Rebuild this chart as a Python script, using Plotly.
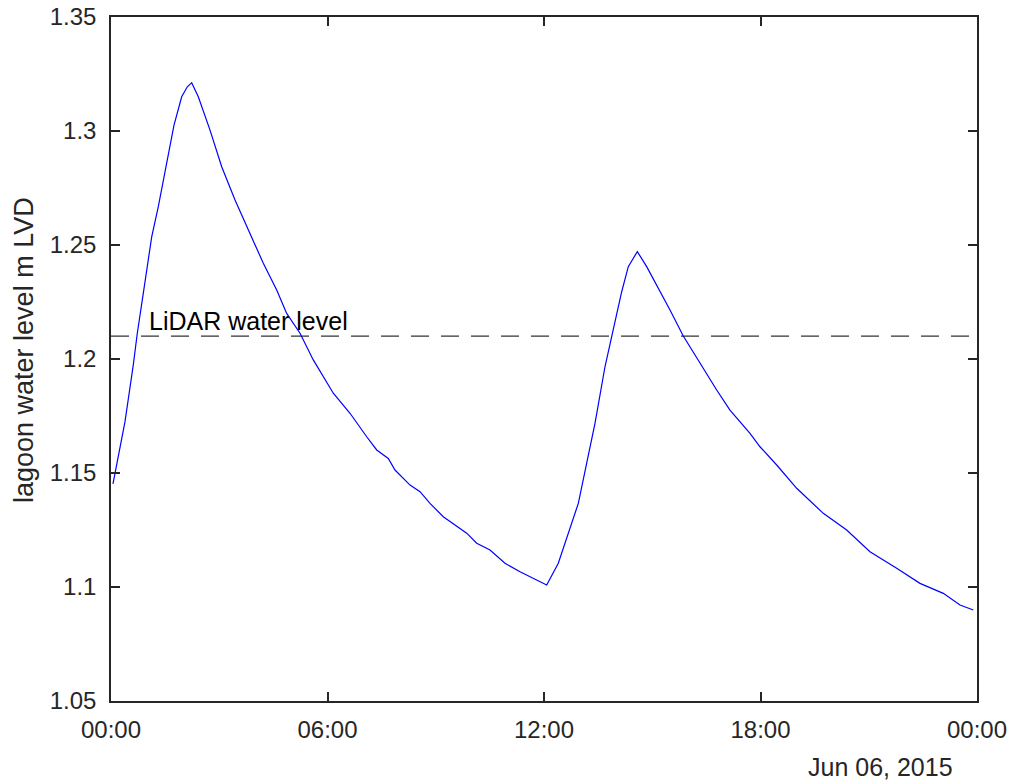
import plotly.graph_objects as go
import pandas as pd

# hours after 2015-06-06 00:00
hours = [0.055, 0.388, 0.618, 0.729, 0.895, 1.128, 1.311, 1.588, 1.746, 1.959, 2.115, 2.236,
         2.419, 2.744, 2.882, 3.068, 3.437, 3.852, 4.221, 4.592, 4.869, 5.238, 5.606, 6.161,
         6.624, 7.087, 7.364, 7.685, 7.871, 8.287, 8.564, 8.841, 9.209, 9.858, 10.135, 10.504,
         10.919, 11.335, 11.798, 12.075, 12.396, 12.721, 12.951, 13.183, 13.413, 13.690, 13.876,
         14.153, 14.336, 14.586, 14.846, 15.123, 15.492, 15.860, 16.323, 16.786, 17.154, 17.709,
         17.986, 18.449, 19.003, 19.740, 20.389, 21.034, 21.774, 22.420, 23.066, 23.529, 23.897]
level = [1.1452, 1.1725, 1.1974, 1.2113, 1.2288, 1.2536, 1.2668, 1.2887, 1.3026, 1.3150, 1.3194, 1.3212,
         1.3150, 1.3004, 1.2931, 1.2843, 1.2697, 1.2551, 1.2420, 1.2303, 1.2200, 1.2113, 1.1996, 1.1850,
         1.1762, 1.1659, 1.1601, 1.1564, 1.1513, 1.1447, 1.1418, 1.1367, 1.1308, 1.1236, 1.1192, 1.1162,
         1.1104, 1.1067, 1.1031, 1.1009, 1.1104, 1.1264, 1.1367, 1.1543, 1.1718, 1.1966, 1.2098,
         1.2295, 1.2405, 1.2471, 1.2405, 1.2325, 1.2215, 1.2101, 1.1981, 1.1864, 1.1776, 1.1674,
         1.1615, 1.1535, 1.1433, 1.1323, 1.1250, 1.1155, 1.1082, 1.1016, 1.0972, 1.0921, 1.0899]

lidar_level = 1.21
lidar_label = "LiDAR water level"
y_ticks = [1.05, 1.1, 1.15, 1.2, 1.25, 1.3, 1.35]
y_ticktext = ["1.05", "1.1", "1.15", "1.2", "1.25", "1.3", "1.35"]
x_tick_hours = [0, 6, 12, 18, 24]
x_ticktext = ["00:00", "06:00", "12:00", "18:00", "00:00"]
date_label = "Jun 06, 2015"
y_title = "lagoon water level m LVD"

base = pd.Timestamp("2015-06-06 00:00")
t = [base + pd.Timedelta(hours=h) for h in hours]
tickvals = [base + pd.Timedelta(hours=h) for h in x_tick_hours]
x0, x1 = tickvals[0], tickvals[-1]

FONT = "Liberation Sans, Arial, sans-serif"
AX = "#262626"

fig = go.Figure()
fig.add_trace(go.Scatter(x=[x0, x1], y=[lidar_level, lidar_level], mode="lines",
                         line=dict(color="#333333", width=1.3, dash="18px,12px"),
                         hoverinfo="skip", showlegend=False))
fig.add_trace(go.Scatter(x=t, y=level, mode="lines",
                         line=dict(color="#0000ff", width=1.2), showlegend=False))

fig.add_annotation(x=base + pd.Timedelta(hours=1.0), y=lidar_level, xref="x", yref="y",
                   text=lidar_label, showarrow=False, xanchor="left", yanchor="bottom",
                   yshift=-1, font=dict(family=FONT, size=25, color="#000000"))
fig.add_annotation(x=(955 - 111) / 866, y=(701 - 767) / 684, xref="paper", yref="paper",
                   text=date_label, showarrow=False, xanchor="right", yanchor="middle",
                   font=dict(family=FONT, size=25, color=AX))
fig.add_annotation(x=(24 - 111) / 866, y=(701 - 350) / 684, xref="paper", yref="paper",
                   text=y_title, showarrow=False, textangle=-90, xanchor="center", yanchor="middle",
                   font=dict(family=FONT, size=27, color=AX))

axis_common = dict(showline=True, linecolor=AX, linewidth=1.5, mirror="ticks",
                   ticks="inside", ticklen=9, tickwidth=1.5, tickcolor=AX,
                   showgrid=False, zeroline=False, automargin=False,
                   tickfont=dict(family=FONT, size=24, color=AX))
fig.update_xaxes(type="date", range=[x0, x1], tickvals=tickvals, ticktext=x_ticktext,
                 ticklabelstandoff=6, **axis_common)
fig.update_yaxes(range=[1.05, 1.35], tickvals=y_ticks, ticktext=y_ticktext,
                 ticklabelstandoff=8, **axis_common)

fig.update_layout(width=1013, height=784, margin=dict(l=111, r=36, t=17, b=83),
                  plot_bgcolor="white", paper_bgcolor="white",
                  font=dict(family=FONT, color=AX))
fig.write_html("out.html")
